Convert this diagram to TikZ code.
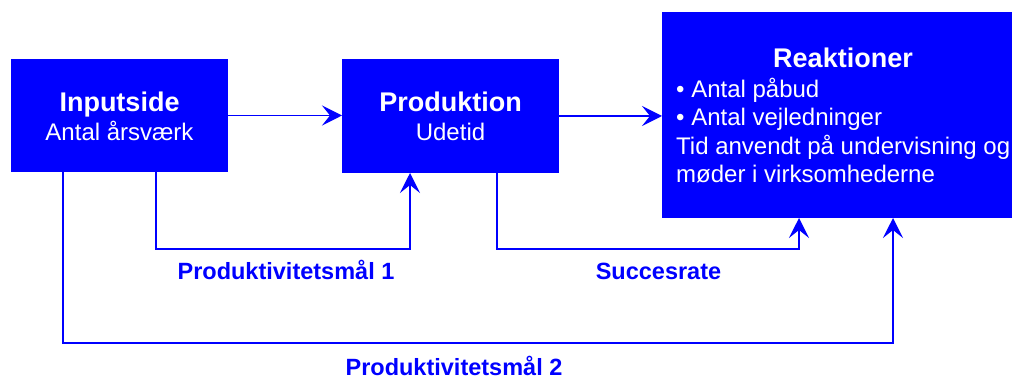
\documentclass[tikz,border=0pt]{standalone}
\usepackage{fontspec}
\setmainfont{Liberation Sans}
\usetikzlibrary{arrows.meta}
\definecolor{pblue}{RGB}{0,0,255}
\begin{document}
\begin{tikzpicture}[x=1pt,y=-1pt,
  box/.style={draw=none,fill=pblue,inner sep=0pt,outer sep=0pt,anchor=north west},
  ttl/.style={text=white,font=\fontsize{27}{30}\selectfont\bfseries,anchor=base,inner sep=0pt},
  sub/.style={text=white,font=\fontsize{24}{28}\selectfont,anchor=base,inner sep=0pt},
  bodyline/.style={text=white,font=\fontsize{24}{28}\selectfont,anchor=base west,inner sep=0pt},
  lbl/.style={text=pblue,font=\fontsize{23.5}{28}\selectfont\bfseries,anchor=base,inner sep=0pt},
  conn/.style={draw=pblue,line width=1.5pt,-{Stealth[length=20pt,width=20pt,inset=8pt]}}]
\useasboundingbox (0,0) rectangle (1013,379);
% boxes
\node[box,minimum width=217pt,minimum height=113pt] (inp) at (11,59) {};
\node[box,minimum width=217pt,minimum height=114pt] (prod) at (342,59) {};
\node[box,minimum width=350pt,minimum height=206pt] (reak) at (662,12) {};
% box texts
\node[ttl] (inpT) at (119.5,112) {Inputside};
\node[sub] (inpS) at (119.5,141) {Antal årsværk};
\node[ttl] (prodT) at (450.5,112) {Produktion};
\node[sub] (prodS) at (450.5,141) {Udetid};
\node[ttl] (reakT) at (843,68) {Reaktioner};
\node[bodyline] (r1) at (676,97.5) {• Antal påbud};
\node[bodyline] (r2) at (676,126) {• Antal vejledninger};
\node[bodyline] (r3) at (676,154.5) {Tid anvendt på undervisning og};
\node[bodyline] (r4) at (676,183) {møder i virksomhederne};
% helper coordinates
\coordinate (a1) at (156,249);
\coordinate (a2) at (410,249);
\coordinate (b1) at (497,249);
\coordinate (b2) at (799,249);
\coordinate (c1) at (63,343);
\coordinate (c2) at (893,343);
% connectors
\draw[conn] (inp.east) -- (inp.east -| prod.west);
\draw[conn] (prod.east) -- (prod.east -| reak.west);
\draw[conn] (inp.south -| a1) -- (a1) -- (a2) -- (prod.south -| a2);
\draw[conn] (prod.south -| b1) -- (b1) -- (b2) -- (reak.south -| b2);
\draw[conn] (inp.south -| c1) -- (c1) -- (c2) -- (reak.south -| c2);
% labels
\node[lbl] (l1) at (286,280) {Produktivitetsmål 1};
\node[lbl] (l2) at (658.5,280) {Succesrate};
\node[lbl] (l3) at (454,376) {Produktivitetsmål 2};
\end{tikzpicture}
\end{document}
